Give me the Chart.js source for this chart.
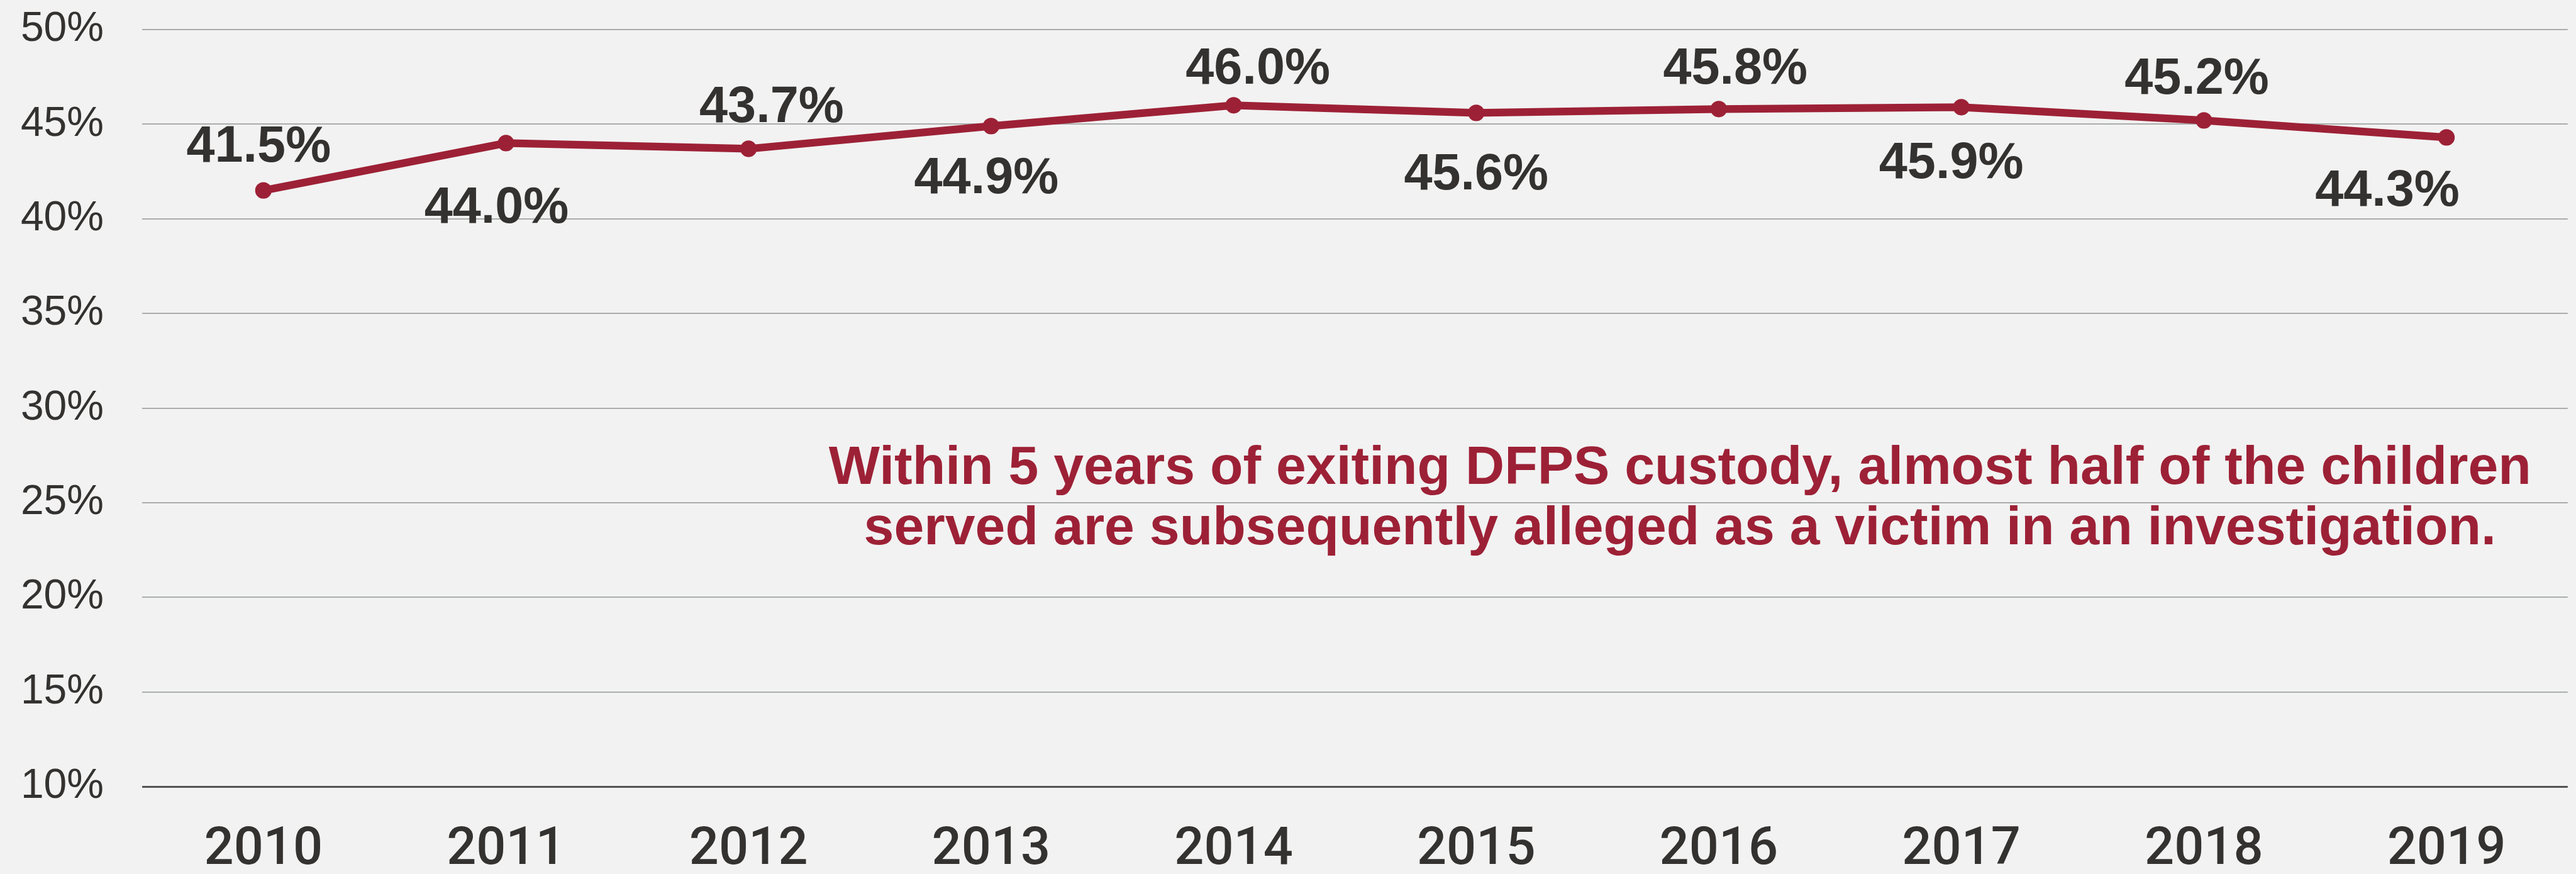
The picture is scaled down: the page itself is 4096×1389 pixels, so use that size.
<!DOCTYPE html>
<html>
<head>
<meta charset="utf-8">
<script src="https://cdn.jsdelivr.net/npm/chart.js@4.4.0/dist/chart.umd.min.js"></script>
<style>
    html, body { margin: 0; padding: 0; background: #f2f2f2; }
    #wrap { width: 4096px; height: 1389px; }
</style>
</head>
<body>
<div id="wrap"><canvas id="myChart"></canvas></div>
<script>
// chart data
const years = ['2010', '2011', '2012', '2013', '2014', '2015', '2016', '2017', '2018', '2019'];
const rates = [41.5, 44.0, 43.7, 44.9, 46.0, 45.6, 45.8, 45.9, 45.2, 44.3];
const yTicks = [10, 15, 20, 25, 30, 35, 40, 45, 50];
const noteLines = [
    'Within 5 years of exiting DFPS custody, almost half of the children',
    'served are subsequently alleged as a victim in an investigation.'
];

// everything drawn at 0.94 of the reference size
const S = 0.94;
const red = '#9d2136';
const ink = '#333230';

// nudges of the value labels from their point (reference px): [dx, baseline dy]
const labelNudge = [[-8, -49], [-16, 135], [39, -45], [-8, 113], [41, -36],
                    [0, 129], [28, -43], [-17, 120], [-12, -45], [-100, 115]];

const valueLabels = {
    id: 'valueLabels',
    afterDatasetsDraw(chart) {
        const ctx = chart.ctx;
        const meta = chart.getDatasetMeta(0);
        ctx.save();
        ctx.font = 'bold ' + Math.round(86 * S) + 'px "Liberation Sans"';
        ctx.fillStyle = ink;
        ctx.textAlign = 'center';
        ctx.textBaseline = 'alphabetic';
        meta.data.forEach(function (pt, i) {
            let n = labelNudge[i];
            ctx.fillText(rates[i].toFixed(1) + '%', pt.x + n[0] * S, pt.y + n[1] * S);
        });
        ctx.restore();
    }
};

const note = {
    id: 'note',
    afterDraw(chart) {
        const ctx = chart.ctx;
        const x = chart.scales.x.getPixelForValue(5.84);
        ctx.save();
        ctx.font = 'bold ' + Math.round(91 * S) + 'px "Liberation Sans"';
        ctx.fillStyle = red;
        ctx.textAlign = 'center';
        ctx.textBaseline = 'alphabetic';
        ctx.fillText(noteLines[0], x, chart.scales.y.getPixelForValue(26.0));
        ctx.fillText(noteLines[1], x, chart.scales.y.getPixelForValue(22.8));
        ctx.restore();
    }
};

Chart.defaults.color = ink;

new Chart(document.getElementById('myChart'), {
    type: 'line',
    data: {
        labels: years,
        datasets: [{
            data: rates,
            borderColor: red,
            backgroundColor: red,
            borderWidth: 13 * S,
            pointRadius: 14 * S,
            pointBorderWidth: 0,
            pointHoverRadius: 14 * S,
            tension: 0,
            fill: false
        }]
    },
    options: {
        responsive: true,
        maintainAspectRatio: false,
        animation: false,
        layout: {
            padding: { top: 47, right: 7, left: 0, bottom: 0 }
        },
        plugins: {
            legend: { display: false },
            tooltip: { enabled: false }
        },
        scales: {
            x: {
                offset: true,
                grid: { display: false, drawTicks: false },
                border: { display: false },
                ticks: {
                    padding: 52,
                    color: ink,
                    font: { family: 'Roboto', weight: 500, size: Math.round(88 * S) }
                },
                afterFit: function (scale) {
                    scale.height = 139;
                    scale.paddingLeft = 0;
                    scale.paddingRight = 0;
                }
            },
            y: {
                min: 10,
                max: 50,
                afterBuildTicks: function (scale) {
                    scale.ticks = yTicks.map(v => ({ value: v }));
                },
                grid: {
                    drawTicks: false,
                    lineWidth: function (c) { return c.tick && c.tick.value === 10 ? 3 : 2; },
                    color: function (c) { return c.tick && c.tick.value === 10 ? '#505352' : '#a9adab'; }
                },
                border: { display: false },
                ticks: {
                    padding: 61,
                    color: ink,
                    font: { family: 'Liberation Sans', size: Math.round(70 * S) },
                    callback: function (v) { return v + '%'; }
                },
                afterFit: function (scale) {
                    scale.width = 226;
                    scale.paddingTop = 0;
                    scale.paddingBottom = 0;
                }
            }
        }
    },
    plugins: [valueLabels, note]
});
</script>
</body>
</html>
